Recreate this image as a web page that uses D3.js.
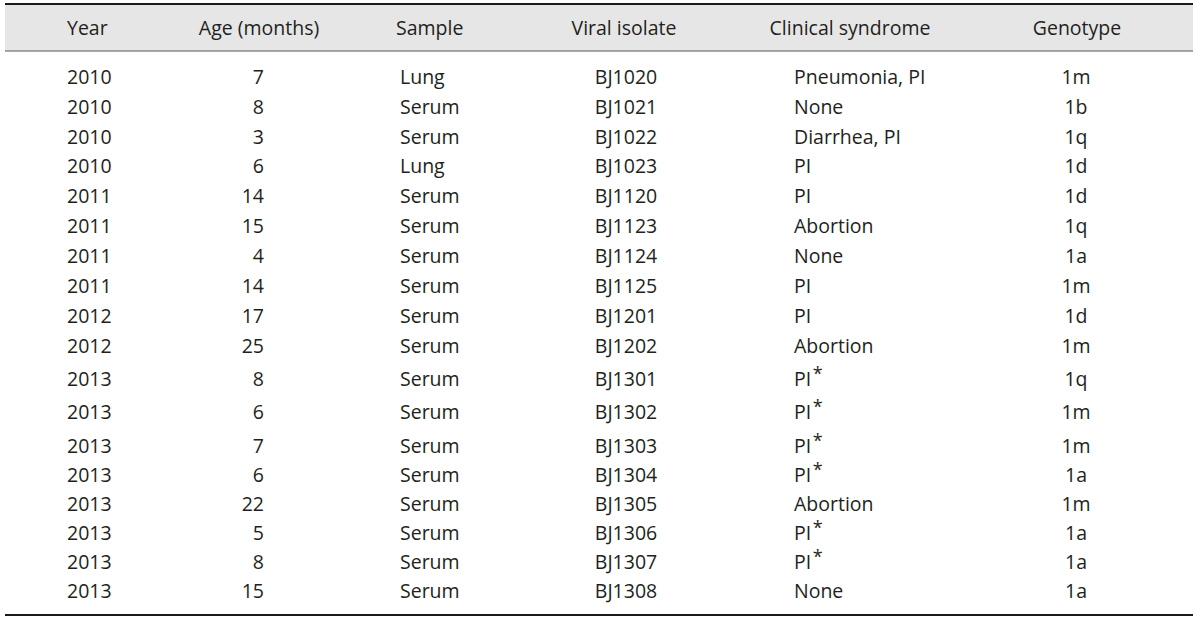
<!DOCTYPE html>
<html>
<head>
<meta charset="utf-8">
<script src="https://cdn.jsdelivr.net/npm/d3@7/dist/d3.min.js"></script>
<style>
  html, body { margin: 0; padding: 0; background: #fff; }
  svg { display: block; }
</style>
</head>
<body>
<svg id="chart" width="1200" height="620"></svg>
<script>
// ---- Data ----
const headers = ["Year", "Age (months)", "Sample", "Viral isolate", "Clinical syndrome", "Genotype"];
const years = [2010, 2010, 2010, 2010, 2011, 2011, 2011, 2011, 2012, 2012, 2013, 2013, 2013, 2013, 2013, 2013, 2013, 2013];
const ages = [7, 8, 3, 6, 14, 15, 4, 14, 17, 25, 8, 6, 7, 6, 22, 5, 8, 15];
const samples = ["Lung", "Serum", "Serum", "Lung", "Serum", "Serum", "Serum", "Serum", "Serum", "Serum", "Serum", "Serum", "Serum", "Serum", "Serum", "Serum", "Serum", "Serum"];
const isolates = ["BJ1020", "BJ1021", "BJ1022", "BJ1023", "BJ1120", "BJ1123", "BJ1124", "BJ1125", "BJ1201", "BJ1202", "BJ1301", "BJ1302", "BJ1303", "BJ1304", "BJ1305", "BJ1306", "BJ1307", "BJ1308"];
const syndromes = ["Pneumonia, PI", "None", "Diarrhea, PI", "PI", "PI", "Abortion", "None", "PI", "PI", "Abortion", "PI*", "PI*", "PI*", "PI*", "Abortion", "PI*", "PI*", "None"];
const genotypes = ["1m", "1b", "1q", "1d", "1d", "1q", "1a", "1m", "1d", "1m", "1q", "1m", "1m", "1a", "1m", "1a", "1a", "1a"];

// ---- Layout ----
const font = "'Open Sans', Lato, sans-serif";
const fontSize = 19.5;
const textColor = "#231f20";
const tableLeft = 5, tableRight = 1193;
const topLine = 4, headerBottom = 51, bottomLine = 615;
const headerBaseline = 35;

// column anchors: header anchor and value anchor
const cols = [
  { hx: 67,   ha: "start",  vx: 67,   va: "start"  },
  { hx: 259,  ha: "middle", vx: 264,  va: "end"    },
  { hx: 396,  ha: "start",  vx: 400,  va: "start"  },
  { hx: 624,  ha: "middle", vx: 626,  va: "middle" },
  { hx: 850,  ha: "middle", vx: 794,  va: "start"  },
  { hx: 1077, ha: "middle", vx: 1076, va: "middle" }
];

const rows = years.map((y, i) => [String(y), String(ages[i]), samples[i], isolates[i], syndromes[i], genotypes[i]]);

const svg = d3.select("#chart");

// row baseline scale (rows with superscripts sit slightly further apart in the source)
const yScale = d3.scaleLinear()
  .domain([0, 9, 12, rows.length - 1])
  .range([83.7, 353, 452.7, 598]);

// header band
svg.append("rect")
  .attr("x", tableLeft).attr("y", topLine)
  .attr("width", tableRight - tableLeft).attr("height", headerBottom - topLine)
  .attr("fill", "#e6e6e6");

svg.append("line")
  .attr("x1", tableLeft).attr("x2", tableRight)
  .attr("y1", topLine).attr("y2", topLine)
  .attr("stroke", "#1a1a1a").attr("stroke-width", 2);
svg.append("line")
  .attr("x1", tableLeft).attr("x2", tableRight)
  .attr("y1", headerBottom).attr("y2", headerBottom)
  .attr("stroke", "#555").attr("stroke-width", 1.2);
svg.append("line")
  .attr("x1", tableLeft).attr("x2", tableRight)
  .attr("y1", bottomLine).attr("y2", bottomLine)
  .attr("stroke", "#1a1a1a").attr("stroke-width", 2);

// headers
svg.append("g").selectAll("text")
  .data(headers)
  .join("text")
  .attr("x", (d, i) => cols[i].hx)
  .attr("y", headerBaseline)
  .attr("text-anchor", (d, i) => cols[i].ha)
  .attr("font-family", font)
  .attr("font-size", fontSize)
  .attr("fill", textColor)
  .text(d => d);

// body rows
const rowG = svg.append("g").selectAll("g")
  .data(rows)
  .join("g")
  .attr("transform", (d, i) => `translate(0,${yScale(i)})`);

rowG.selectAll("text")
  .data(d => d)
  .join("text")
  .attr("x", (d, i) => cols[i].vx)
  .attr("y", 0)
  .attr("text-anchor", (d, i) => cols[i].va)
  .attr("font-family", font)
  .attr("font-size", fontSize)
  .attr("fill", textColor)
  .each(function(d) {
    const t = d3.select(this);
    if (d.endsWith("*")) {
      t.append("tspan").text(d.slice(0, -1));
      t.append("tspan").attr("dx", 1.5).attr("dy", -6).attr("font-size", 18).text("*");
    } else {
      t.text(d);
    }
  });
</script>
</body>
</html>
